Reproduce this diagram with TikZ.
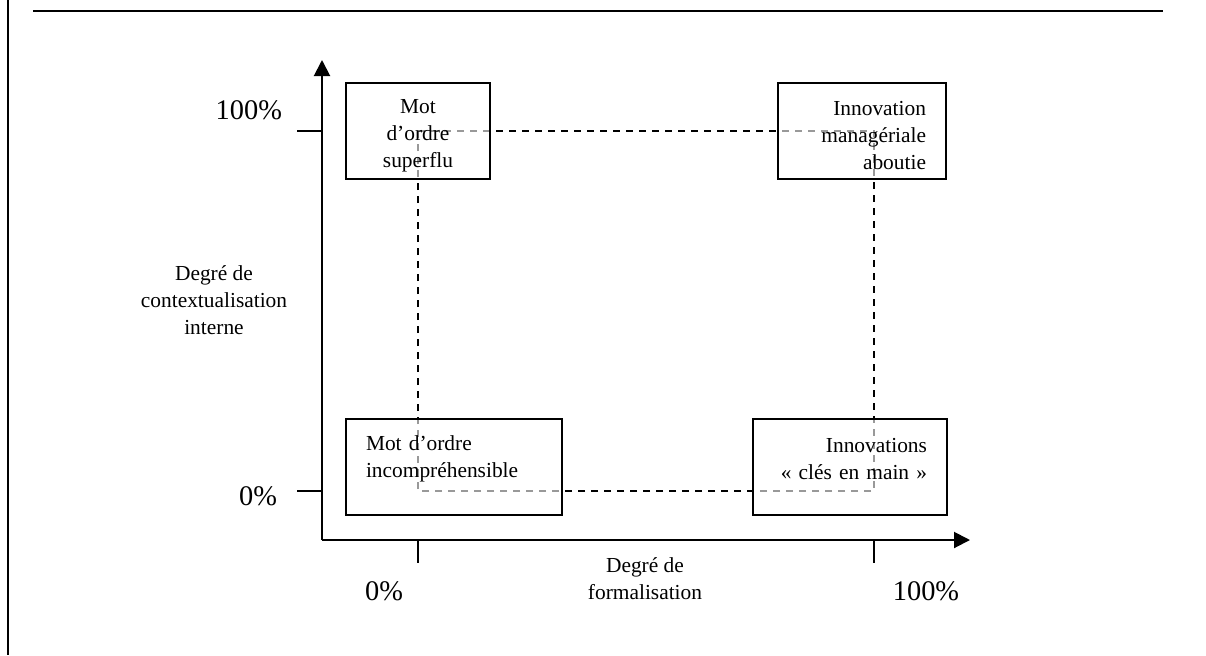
\documentclass[tikz,border=0pt]{standalone}
\usepackage{fontspec}
\setmainfont{Liberation Serif}
\usetikzlibrary{positioning, arrows.meta, calc}

\begin{document}
\begin{tikzpicture}[
    x=0.5pt, y=-0.5pt,
    quadrant/.style={draw, line width=1pt, fill=white, fill opacity=0.6, text opacity=1, minimum height=48pt, inner xsep=10pt, inner ysep=0pt, font=\fontsize{10.7}{13.6}\selectfont},
    arrowaxis/.style={line width=1pt, -{Triangle[length=8pt, width=8pt]}},
    tickmark/.style={line width=1pt},
    border/.style={line width=1.1pt},
    guide/.style={line width=0.7pt, dash pattern=on 3.5pt off 3pt},
    axislabel/.style={align=center, font=\fontsize{10.7}{13.4}\selectfont},
    pct/.style={font=\fontsize{14.2}{16}\selectfont}
]
\useasboundingbox (0,0) rectangle (1206,655);

% Page border
\draw[border] (33,11) -- (1163,11);
\draw[border] (8,0) -- (8,655);

% Axes
\coordinate (O) at (322,540);
\coordinate (ytop) at (322,60);
\coordinate (xend) at (970,540);
\coordinate (x0) at (418,540);
\coordinate (x1) at (874,540);
\coordinate (y0) at (322,491);
\coordinate (y1) at (322,131);

% Dashed frame between the quadrants
\draw[guide] (x0 |- y1) -- (x1 |- y1) -- (x1 |- y0) -- (x0 |- y0) -- cycle;

\draw[arrowaxis] (O) -- (ytop);
\draw[arrowaxis] (O) -- (xend);

% Ticks
\draw[tickmark] (y1) -- ++(-25,0);
\draw[tickmark] (y0) -- ++(-25,0);
\draw[tickmark] (x0) -- ++(0,23);
\draw[tickmark] (x1) -- ++(0,23);

% Quadrants
\node[quadrant, text width=52pt, align=center, text depth=24.5pt] (superflu) at (418,131) {Mot\\d’ordre\\superflu};
\node[quadrant, text width=64pt, align=right, text depth=22.5pt] (aboutie) at (862,131) {Innovation\\managériale\\aboutie};
\node[quadrant, text width=88pt, align=left, text depth=24pt] (incomp) at (454,467) {Mot d’ordre\\incompréhensible};
\node[quadrant, text width=77pt, align=right, text depth=22pt] (clefs) at (850,467) {Innovations\\«~clés~en~main~»};

% Axis labels
\node[pct, anchor=east] (ycent) at (289,110) {100\%};
\node[pct, anchor=east] (yzero) at (284,496) {0\%};
\node[pct] (xzero) at (384,591) {0\%};
\node[pct] (xcent) at (926,591) {100\%};
\node[axislabel] (xlab) at (645,579) {Degré de\\formalisation};
\node[axislabel] (ylab) at (214,300) {Degré de\\contextualisation\\interne};
\end{tikzpicture}
\end{document}
